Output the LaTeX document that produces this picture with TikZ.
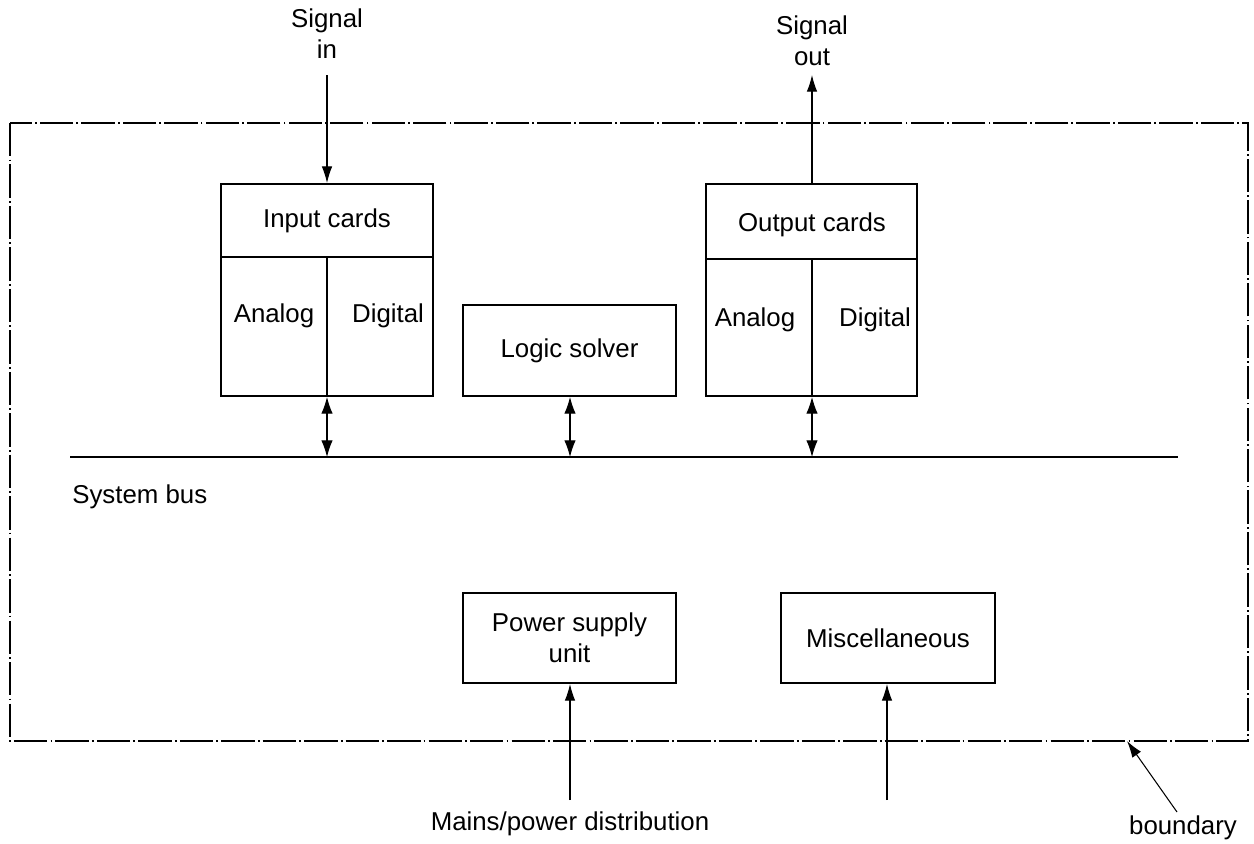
\documentclass[tikz,border=0pt]{standalone}
\usepackage{fontspec}
\setmainfont{Liberation Sans}
\usetikzlibrary{arrows.meta}
\begin{document}
\begin{tikzpicture}[x=0.02cm,y=-0.02cm,
  box/.style={draw,line width=1.1pt,rectangle,inner sep=0pt},
  lbl/.style={font=\fontsize{14.7}{17.5}\selectfont,inner sep=0pt,align=center},
  conn/.style={line width=0.6pt,-{Latex[length=9.5pt,width=6pt]}},
  dconn/.style={line width=0.6pt,{Latex[length=9.5pt,width=6.5pt]}-{Latex[length=9.5pt,width=6.5pt]}},
  bound/.style={line width=0.7pt,dash pattern=on 19pt off 1.8pt on 1pt off 1.8pt}]
\useasboundingbox (0,0) rectangle (1254,843);
% boundary
\draw[bound] (10,123) rectangle (1248,741);
% input cards
\node[box,minimum width=4.24cm,minimum height=4.24cm] (inc) at (327,290) {};
\draw[line width=1.1pt] (221,257) -- (433,257);
\coordinate (indiv) at (327,257);
\draw[line width=1.1pt] (indiv) -- (inc.south);
\node[lbl] (inct) at (327,221) {Input cards};
\node[lbl] (ina) at (274,316) {Analog};
\node[lbl] (ind) at (388,316) {Digital};
% output cards
\node[box,minimum width=4.22cm,minimum height=4.24cm] (outc) at (811.5,290) {};
\draw[line width=1.1pt] (706,259) -- (917,259);
\coordinate (outdiv) at (812,259);
\draw[line width=1.1pt] (outdiv) -- (outdiv |- outc.south);
\node[lbl] (outct) at (812,225) {Output cards};
\node[lbl] (outa) at (755,320) {Analog};
\node[lbl] (outd) at (875,320) {Digital};
% logic solver
\node[box,lbl,minimum width=4.26cm,minimum height=1.82cm] (logic) at (569.5,350.5) {Logic solver};
% power / misc
\node[box,lbl,minimum width=4.26cm,minimum height=1.8cm] (psu) at (569.5,638) {Power supply\\unit};
\node[box,lbl,minimum width=4.28cm,minimum height=1.8cm] (misc) at (888,638) {Miscellaneous};
% bus
\coordinate (busL) at (70,457);
\coordinate (busR) at (1178,457);
\draw[line width=1.1pt] (busL) -- (busR);
\node[lbl,anchor=west] (busl) at (72,497) {System bus};
\coordinate (b1) at (327,457);
\coordinate (b2) at (570,457);
\coordinate (b3) at (812,457);
\draw[dconn] (b1 |- inc.south) -- (b1);
\draw[dconn] (b2 |- logic.south) -- (b2);
\draw[dconn] (b3 |- outc.south) -- (b3);
% signals
\node[lbl] (sin) at (327,34) {Signal\\in};
\coordinate (sinS) at (327,75);
\draw[conn] (sinS) -- (inc.north);
\node[lbl] (sout) at (812,41) {Signal\\out};
\coordinate (soutS) at (812,75);
\draw[conn] (soutS |- outc.north) -- (soutS);
% mains
\coordinate (m1) at (570,800);
\coordinate (m2) at (887,800);
\draw[conn] (m1) -- (m1 |- psu.south);
\draw[conn] (m2) -- (m2 |- misc.south);
\node[lbl] (mains) at (570,824) {Mains/power distribution};
% boundary label
\node[lbl] (bl) at (1183,828) {boundary};
\coordinate (bs) at (1177,812);
\coordinate (bt) at (1127,741);
\draw[conn] (bs) -- (bt);
\end{tikzpicture}
\end{document}
